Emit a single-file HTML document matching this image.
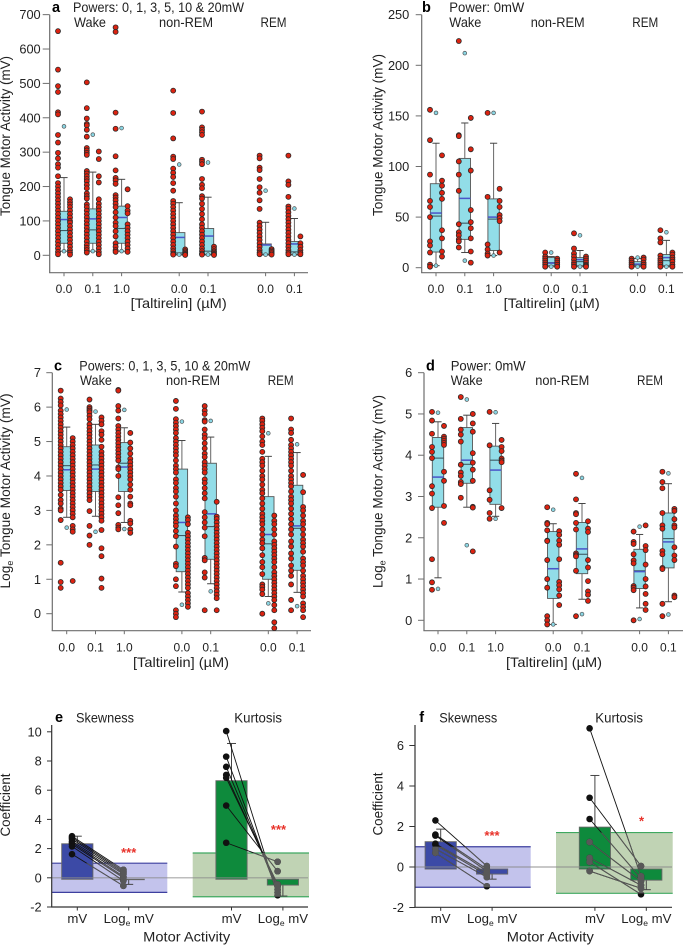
<!DOCTYPE html>
<html lang="en">
<head>
<meta charset="utf-8">
<title>Tongue motor activity</title>
<style>
html,body{margin:0;padding:0;background:#fff;width:683px;height:945px;overflow:hidden}
svg{display:block}
text{font-family:"Liberation Sans",sans-serif;fill:#222}
.tick{font-size:12.8px}
.xt{font-size:12px;text-anchor:middle}
.xb{font-size:13.2px;text-anchor:middle}
.title{font-size:13.6px}
.head{font-size:13.6px}
.letter{font-size:14.5px;font-weight:bold;fill:#000}
.star{font-size:13px;font-weight:bold;fill:#e8322a;text-anchor:middle}
</style>
</head>
<body>
<svg id="figure" width="683" height="945" viewBox="0 0 683 945" xmlns="http://www.w3.org/2000/svg">
<defs id="clips"></defs>

<g id="panel-a"></g>
<g id="panel-b"></g>
<g id="panel-c"></g>
<g id="panel-d"></g>
<g id="panel-e"></g>
<g id="panel-f"></g>

<g>
<text class="letter" x="52" y="12">a</text>
<text class="head" x="73" y="12" textLength="171" lengthAdjust="spacingAndGlyphs">Powers: 0, 1, 3, 5, 10 &amp; 20mW</text>
<text class="head" x="74" y="27" textLength="32" lengthAdjust="spacingAndGlyphs">Wake</text>
<text class="head" x="159" y="27" textLength="54" lengthAdjust="spacingAndGlyphs">non-REM</text>
<text class="head" x="260.5" y="27" textLength="26" lengthAdjust="spacingAndGlyphs">REM</text>
<text class="title" text-anchor="middle" transform="translate(10,136) rotate(-90)" textLength="160" lengthAdjust="spacingAndGlyphs">Tongue Motor Activity (mV)</text>
<text class="title" text-anchor="middle" x="178.7" y="308" textLength="96" lengthAdjust="spacingAndGlyphs">[Taltirelin] (µM)</text>
</g>

<g>
<text class="letter" x="422" y="12">b</text>
<text class="head" x="449.3" y="12" textLength="75" lengthAdjust="spacingAndGlyphs">Power: 0mW</text>
<text class="head" x="449.3" y="27" textLength="32" lengthAdjust="spacingAndGlyphs">Wake</text>
<text class="head" x="530.7" y="27" textLength="54" lengthAdjust="spacingAndGlyphs">non-REM</text>
<text class="head" x="632.3" y="27" textLength="26" lengthAdjust="spacingAndGlyphs">REM</text>
<text class="title" text-anchor="middle" transform="translate(382.7,135) rotate(-90)" textLength="162" lengthAdjust="spacingAndGlyphs">Tongue Motor Activity (mV)</text>
<text class="title" text-anchor="middle" x="551.7" y="308" textLength="96" lengthAdjust="spacingAndGlyphs">[Taltirelin] (µM)</text>
</g>

<g>
<text class="letter" x="54" y="370.7">c</text>
<text class="head" x="79.3" y="370.7" textLength="171" lengthAdjust="spacingAndGlyphs">Powers: 0, 1, 3, 5, 10 &amp; 20mW</text>
<text class="head" x="80" y="385" textLength="32" lengthAdjust="spacingAndGlyphs">Wake</text>
<text class="head" x="166" y="385" textLength="54" lengthAdjust="spacingAndGlyphs">non-REM</text>
<text class="head" x="267.7" y="385" textLength="26" lengthAdjust="spacingAndGlyphs">REM</text>
<text class="title" text-anchor="middle" transform="translate(10,491) rotate(-90)" textLength="195" lengthAdjust="spacingAndGlyphs">Log<tspan font-size="9" dy="3">e</tspan><tspan dy="-3"> Tongue Motor Activity (mV)</tspan></text>
<text class="title" text-anchor="middle" x="181" y="667" textLength="96" lengthAdjust="spacingAndGlyphs">[Taltirelin] (µM)</text>
</g>

<g>
<text class="letter" x="426" y="370.7">d</text>
<text class="head" x="450.7" y="370.7" textLength="75" lengthAdjust="spacingAndGlyphs">Power: 0mW</text>
<text class="head" x="450.7" y="385" textLength="32" lengthAdjust="spacingAndGlyphs">Wake</text>
<text class="head" x="535.3" y="385" textLength="54" lengthAdjust="spacingAndGlyphs">non-REM</text>
<text class="head" x="637" y="385" textLength="26" lengthAdjust="spacingAndGlyphs">REM</text>
<text class="title" text-anchor="middle" transform="translate(382.7,491.5) rotate(-90)" textLength="193" lengthAdjust="spacingAndGlyphs">Log<tspan font-size="9" dy="3">e</tspan><tspan dy="-3"> Tongue Motor Activity (mV)</tspan></text>
<text class="title" text-anchor="middle" x="554" y="667" textLength="96" lengthAdjust="spacingAndGlyphs">[Taltirelin] (µM)</text>
</g>

<g>
<text class="letter" x="55" y="722">e</text>
<text class="head" x="76" y="722.3" textLength="58" lengthAdjust="spacingAndGlyphs">Skewness</text>
<text class="head" x="234.3" y="722.3" textLength="47.7" lengthAdjust="spacingAndGlyphs">Kurtosis</text>
<text class="title" text-anchor="middle" transform="translate(10,805) rotate(-90)" textLength="63" lengthAdjust="spacingAndGlyphs">Coefficient</text>
<text class="title" text-anchor="middle" x="186.7" y="941.5" textLength="87" lengthAdjust="spacingAndGlyphs">Motor Activity</text>
<text class="star" x="128.7" y="857">***</text>
<text class="star" x="278.5" y="834">***</text>
</g>

<g>
<text class="letter" x="419.3" y="722">f</text>
<text class="head" x="439.3" y="722.3" textLength="58" lengthAdjust="spacingAndGlyphs">Skewness</text>
<text class="head" x="595.3" y="722.3" textLength="47.7" lengthAdjust="spacingAndGlyphs">Kurtosis</text>
<text class="title" text-anchor="middle" transform="translate(382.7,804) rotate(-90)" textLength="63" lengthAdjust="spacingAndGlyphs">Coefficient</text>
<text class="title" text-anchor="middle" x="550.3" y="941.5" textLength="87" lengthAdjust="spacingAndGlyphs">Motor Activity</text>
<text class="star" x="492" y="840">***</text>
<text class="star" x="641.5" y="825.5">*</text>
</g>
</svg>

<script>
// ---------- shared categories ----------
const categories = ['0.0','0.1','1.0','0.0','0.1','0.0','0.1'];
const stateGroups = [0,0,0,1,1,2,2];
const barCategories = ['mV','Log<tspan font-size="8.5" dy="3">e</tspan><tspan dy="-3"> mV</tspan>','mV','Log<tspan font-size="8.5" dy="3">e</tspan><tspan dy="-3"> mV</tspan>'];
const barGroups = [0,0,1,1];

// ---------- panel a ----------
const aTicks = [0,100,200,300,400,500,600,700];
const aLeft = [
 [652,540,492,475,416,410,350,328,298,282,265,255,230,210,200,190,180,170,160,150,140,130,120,110,100,90,80,70,60,50,40,30,20,10,3],
 [503,428,398,382,378,365,345,312,305,298,292,245,238,230,222,215,205,195,180,172,165,148,140,130,120,110,100,90,80,70,60,50,40,30,22,15,8],
 [663,650,415,368,288,247,225,218,208,175,168,160,150,140,125,110,95,85,70,55,35,25,15,10],
 [479,414,340,287,280,252,240,228,210,188,158,150,140,130,120,110,100,90,80,70,60,50,40,30,20,12,5,2],
 [418,372,365,358,350,278,272,265,222,205,195,172,165,150,135,120,105,90,80,70,60,50,40,30,20,12,5,2],
 [290,282,255,248,222,198,182,160,135,95,85,75,65,55,45,35,25,15,8,3],
 [290,215,205,170,142,135,125,115,105,95,85,75,65,55,45,35,25,15,8,3]
];
const aRight = [
 [163,155,148,140,130,120,110,100,95,85,75,65,55,45,35,25,15,8,2],
 [302,280,230,212,163,150,140,130,120,110,100,90,80,70,60,50,40,30,20,10,3],
 [192,143,130,122,90,80,70,60,50,40,30,20,10],
 [17,12,8,4,1],
 [25,18,12,8,4,1],
 [18,14,10,6,2],
 [55,35,25,15,8,3]
];
const aCyan = [[375,12],[351,12],[370,12],[264,2],[270,2],[188,2],[136,2]];
const aQ1 = [35,35,35,3,3,1,3];
const aQ3 = [128,135,143,66,78,33,40];
const aMedian = [72,74,78,7,12,3,10];
const aMean = [104,106,110,52,56,30,33];
const aWhiskerLow = [12,12,12,1,1,1,1];
const aWhiskerHigh = [226,242,221,153,169,96,107];

// ---------- panel b ----------
const bTicks = [0,50,100,150,200,250];
const bLeft = [
 [156,126,92,66,60,50,26,22,15,3,1],
 [224,131,130,105,92,76,43,35,32,28,26,20],
 [153,70,23,18,14,12],
 [15,11,9,7,5,3,1],
 [34,19,14,11,8,5,3,1],
 [9,7,5,3,1],
 [37,29,25,12,9,7,5,3,1]
];
const bRight = [
 [111,86,81,74,68,37,29,16,11],
 [148,117,96,57,45,39,29,16,5],
 [78,66,60,52,49,46,15],
 [9,7,5,3,1],
 [11,9,7,5,3,2,1],
 [10,8,5,3,1],
 [15,13,10,8,6,3,1]
];
const bCyan = [[153,2],[212,7],[153,12],[15,1],[32,1],[10,1],[35,1]];
const bQ1 = [15.5,28,17,2,2,2,2];
const bQ3 = [83,108,68,10,10,6,13];
const bMedian = [51,44,48,5,6,3,7];
const bMean = [54,68.5,50,4.5,8,3.5,10];
const bWhiskerLow = [2,15,12,1,1,1,1];
const bWhiskerHigh = [123,143,123,11,17,9,27];

// ---------- panel c ----------
const cTicks = [0,1,2,3,4,5,6,7];
const cLeft = [
 [6.48,6.25,6.15,6.05,5.9,5.8,5.7,5.6,5.5,5.4,5.3,5.2,5.1,5.0,4.9,4.8,4.7,4.6,4.5,4.4,4.3,4.2,4.1,4.0,3.9,3.8,3.7,3.6,3.45,3.3,3.2,3.05,3.0,2.72,1.48,0.92,0.75],
 [6.22,6.0,5.95,5.9,5.85,5.75,5.65,5.5,5.4,5.3,5.2,5.1,5.0,4.9,4.8,4.7,4.6,4.5,4.4,4.3,4.2,4.1,4.0,3.9,3.8,3.7,3.6,3.5,3.4,3.3,2.98,2.55,2.27,2.0],
 [6.5,6.48,6.03,5.9,5.67,5.45,5.35,5.25,5.15,5.05,4.95,4.85,4.75,4.65,4.55,4.45,4.25,4.2,4.0,3.38,3.15,2.92,2.58,2.5,2.45],
 [6.18,5.95,5.65,5.55,5.45,5.35,5.25,5.1,5.0,4.9,4.8,4.7,4.6,4.45,4.3,4.2,4.1,3.9,3.8,3.65,3.55,3.4,3.2,3.0,2.85,2.75,2.65,2.55,2.4,2.25,1.95,1.45,1.38,1.0,0.8,0.1,0.0,-0.1],
 [6.03,5.9,5.8,5.62,5.58,5.35,5.2,5.1,4.95,4.8,4.65,4.55,4.4,4.3,4.2,4.1,3.9,3.8,3.65,3.5,3.35,2.95,2.8,2.65,2.5,2.25,1.62,1.55,1.2,1.05,0.1],
 [5.67,5.6,5.5,5.4,5.3,5.15,5.0,4.9,4.7,4.5,4.4,4.3,4.15,4.0,3.9,3.75,3.6,3.5,3.35,3.2,3.05,2.9,2.8,2.7,2.6,2.45,2.3,2.15,2.05,1.9,1.7,1.5,1.35,1.15,0.85,0.78,0.7,0.57,0.0],
 [5.67,5.35,5.25,5.05,4.9,4.8,4.7,4.6,4.5,4.4,4.3,4.15,4.0,3.9,3.8,3.7,3.55,3.4,3.3,3.2,3.05,2.9,2.75,2.6,2.45,2.3,2.1,1.95,1.75,1.6,1.4,1.25,1.1,0.85,0.4,0.1]
];
const cRight = [
 [5.1,5.0,4.9,4.8,4.7,4.6,4.5,4.4,4.3,4.2,4.1,4.0,3.9,3.8,3.7,3.6,3.5,3.4,3.3,3.2,3.1,3.0,2.9,2.8,2.55,2.45,2.38,0.95],
 [5.7,5.6,5.5,5.3,5.2,5.05,4.85,4.7,4.6,4.5,4.4,4.3,4.2,4.1,4.0,3.9,3.8,3.7,3.6,3.5,3.4,3.3,3.2,3.1,3.0,2.9,2.8,2.7,2.43,1.9,1.67,1.02,0.75],
 [5.25,4.97,4.8,4.65,4.5,4.4,4.3,4.2,4.1,4.0,3.9,3.75,3.6,3.4,3.2,3.15,2.7,2.62,2.45,2.35],
 [2.8,2.72,2.6,2.35,2.25,2.15,2.05,1.95,1.85,1.75,1.65,1.55,1.45,1.35,1.25,1.15,1.05,0.95,0.85,0.75,0.6,0.5,0.4,0.3,0.2],
 [3.25,2.82,2.75,2.65,2.55,2.45,2.35,2.25,2.15,2.05,1.95,1.85,1.75,1.65,1.55,1.45,1.35,1.25,1.15,1.05,0.95,0.85,0.75,0.65,0.55,0.45,0.1],
 [2.85,2.7,2.6,2.45,2.3,2.1,2.0,1.9,1.8,1.7,1.6,1.5,1.35,1.2,1.1,1.0,0.9,0.8,0.7,0.6,0.5,0.4,0.25,0.1,-0.25,-0.42],
 [4.03,3.53,3.1,3.0,2.85,2.7,2.6,2.45,2.3,2.15,2.05,1.95,1.8,1.6,1.5,1.4,1.25,1.1,1.0,0.9,0.8,0.7,0.6,0.5,0.3,0.2,0.1,-0.1]
];
const cCyan = [[5.93,2.5],[5.87,2.38],[5.92,2.46],[5.58,0.26],[5.6,0.65],[5.24,0.3],[4.92,0.22]];
const cQ1 = [3.58,3.55,3.55,1.22,1.58,1.0,1.26];
const cQ3 = [4.85,4.9,4.97,4.2,4.37,3.4,3.73];
const cMedian = [4.3,4.32,4.37,2.27,2.53,2.03,2.48];
const cMean = [4.18,4.2,4.26,2.65,2.9,2.3,2.55];
const cWhiskerLow = [2.8,2.83,2.65,0.63,0.87,0.5,0.62];
const cWhiskerHigh = [5.42,5.5,5.4,5.03,5.13,4.57,4.68];

// ---------- panel d ----------
const dTicks = [0,1,2,3,4,5,6];
const dLeft = [
 [5.05,4.84,4.52,4.2,4.08,3.93,3.25,3.07,2.72,1.48,0.92,0.74],
 [5.41,4.88,4.62,4.5,4.33,3.77,3.58,3.5,3.35,3.3,2.97],
 [5.05,4.24,3.15,2.92,2.6,2.46],
 [2.74,2.36,2.33,2.18,1.93,1.92,1.46,1.0,0.79,0.1,0.0,-0.1],
 [3.55,2.93,2.6,2.57,2.36,2.2,1.62,1.58,1.55,1.2,0.1],
 [2.15,1.9,1.85,1.6,1.45,1.38,0.83,0.79,0.73,0.0],
 [3.6,3.35,3.2,2.6,2.3,2.22,1.68,1.6,1.27,1.24,0.4,0.1]
];
const dRight = [
 [4.71,4.45,4.4,4.35,4.3,4.25,3.6,3.38,2.77,2.36],
 [5.0,4.77,4.57,4.05,3.82,3.65,3.38,2.75,2.73,1.67],
 [4.37,4.2,4.1,3.92,3.87,3.83,2.72],
 [2.16,2.07,1.93,1.83,1.48,0.93,0.85,0.75,0.6,0.37],
 [2.4,2.22,2.14,1.46,1.28,0.95,0.7,0.62,0.47],
 [2.3,1.8,1.7,1.35,1.0,0.82,0.64,0.4,0.25],
 [2.7,2.65,2.45,2.3,2.25,1.77,1.57,1.46,0.6,0.56]
];
const dCyan = [[5.03,0.76],[5.35,1.82],[5.04,2.46],[2.68,-0.1],[3.45,0.15],[2.27,0.03],[3.56,0.14]];
const dQ1 = [2.74,3.32,2.81,0.53,1.13,0.77,1.27];
const dQ3 = [4.43,4.67,4.22,2.15,2.37,1.72,2.6];
const dMedian = [3.93,3.78,3.88,1.25,1.6,1.2,1.98];
const dMean = [3.47,3.88,3.64,1.25,1.73,1.18,1.9];
const dWhiskerLow = [1.03,2.74,2.52,-0.1,0.51,0.3,0.45];
const dWhiskerHigh = [4.81,4.97,4.77,2.34,2.83,2.08,3.31];

// ---------- panel e ----------
const eTicks = [-2,0,2,4,6,8,10];
const eSkewMv = [2.85,2.75,2.65,2.5,2.4,2.3,2.15,1.62];
const eSkewLog = [0.55,0.45,0.35,0.25,0.1,0,-0.2,-0.55];
const eKurtMv = [10.05,8.3,7.6,7.05,6.85,4.95,2.4];
const eKurtLog = [-1.2,-1.0,-0.8,-0.6,-0.45,0.45,1.1];
const eBarMeans = [2.33,-0.13,6.65,-0.5];
const eBarErrors = [2.85,-0.45,9.2,-1.25];
const eBarEnds = [-0.1,-0.1,-0.1,-0.1];

// ---------- panel f ----------
const fTicks = [-2,0,2,4,6];
const fSkewMv = [2.3,1.6,1.55,1.15,1.1,0.9,0.7];
const fSkewLog = [0.05,-0.1,-0.2,-0.3,-0.4,-0.5,-0.95];
const fKurtMv = [6.85,3.42,2.37,1.23,0.45,0.25,-0.2];
const fKurtLog = [-0.45,0.05,-0.55,-0.7,-0.9,-1.35,-1.05];
const fBarMeans = [1.25,-0.35,1.97,-0.65];
const fBarErrors = [1.87,-0.6,4.52,-1.12];
const fBarEnds = [-0.1,-0.1,-0.1,-0.1];

// ---------- bands ----------
const skewBand = [1,-1];
const kurtBand = [1.7,-1.3];

// ---------- drawing ----------
const NS = 'http://www.w3.org/2000/svg';
function node(parent, tag, attrs){
  const n = document.createElementNS(NS, tag);
  for (const k in attrs) n.setAttribute(k, attrs[k]);
  parent.appendChild(n);
  return n;
}

function drawAxes(g, o, xLabels, slots, labelClass){
  const axisColor = o.axis;
  const yAxis = node(g,'line',{x1:o.left,x2:o.left,y1:o.top,y2:o.bottom,stroke:axisColor,'stroke-width':1.2});
  
  
  const xAxis = node(g,'line',{x1:o.left-0.6,x2:o.right,y1:o.bottom,y2:o.bottom,stroke:axisColor,'stroke-width':1.2});
  
  
  o.ticks.forEach(function(t){
    const tk = node(g,'line',{x1:o.left-o.tickLen,x2:o.left,y1:o.y(t),y2:o.y(t),stroke:axisColor,'stroke-width':1});
    
    
    const lb = node(g,'text',{x:o.labelRight,y:o.y(t)+4.5,'text-anchor':'end','class':'tick'});
    
    
    lb.textContent = t;
  });
  xLabels.forEach(function(c,i){
    const x = o.x(i);
    const tk = node(g,'line',{x1:x,x2:x,y1:o.bottom,y2:o.bottom+3.5,stroke:axisColor,'stroke-width':1});
    
    
    const lb = node(g,'text',{x:x,y:o.xLabelY,'class':labelClass});
    
    
    lb.innerHTML = c;
  });
}

function drawBoxPanel(id, o, d){
  const g = document.getElementById(id);
  o.x = function(i){ return o.x0 + o.dx*(i + stateGroups[i]); };
  o.y = function(v){ return o.zero - (v - 0)*o.perUnit; };
  drawAxes(g, o, categories, stateGroups, 'xt');
  categories.forEach(function(c,i){
    const x = o.x(i), hw = 5.7, cap = 3.6;
    const col = node(g,'g',{});
    
    
    const stem = node(col,'line',{x1:x,x2:x,y1:o.y(d.hi[i]),y2:o.y(d.lo[i]),stroke:'#666','stroke-width':1});
    
    
    [d.hi[i], d.lo[i]].forEach(function(v){
      const cp = node(col,'line',{x1:x-cap,x2:x+cap,y1:o.y(v),y2:o.y(v),stroke:'#444','stroke-width':1});
      
      
    });
    const box = node(col,'rect',{x:x-hw,width:hw*2,y:o.y(d.q3[i]),height:Math.max(0.5,o.y(d.q1[i])-o.y(d.q3[i])),fill:'#92dde8',stroke:'#555','stroke-width':0.9});
    
    
    const med = node(col,'line',{x1:x-hw,x2:x+hw,y1:o.y(d.med[i]),y2:o.y(d.med[i]),stroke:'#3f5a62','stroke-width':1.1});
    
    
    const mean = node(col,'line',{x1:x-hw,x2:x+hw,y1:o.y(d.mean[i]),y2:o.y(d.mean[i]),stroke:'#4a55c8','stroke-width':1.5});
    
    
    d.cyan[i].forEach(function(v){
      const p = node(col,'circle',{cx:x,cy:o.y(v),r:1.9,fill:'#8ad6e4',stroke:'#555','stroke-width':0.7});
      
      
    });
    d.left[i].forEach(function(v){
      const p = node(col,'circle',{cx:x-6,cy:o.y(v),r:2.5,fill:'#dc2210',stroke:'#2a2a2a','stroke-width':0.8});
      
      
    });
    d.right[i].forEach(function(v){
      const p = node(col,'circle',{cx:x+6,cy:o.y(v),r:2.5,fill:'#dc2210',stroke:'#2a2a2a','stroke-width':0.8});
      
      
    });
  });
}

let clipCount = 0;
function drawPairs(g, o, mv, log, i0, color, clipId){
  const holder = node(g,'g', clipId ? {'clip-path':'url(#'+clipId+')'} : {});
  
  
  const xa = o.x(i0)-5.3, xb = o.x(i0+1)-5.3;
  mv.forEach(function(v,k){
    const ln = node(holder,'line',{x1:xa,y1:o.y(v),x2:xb,y2:o.y(log[k]),stroke:color,'stroke-width':0.9});
    
    
  });
  mv.forEach(function(v){
    const p = node(holder,'circle',{cx:xa,cy:o.y(v),r:3.3,fill:color});
    
    
  });
  log.forEach(function(v){
    const p = node(holder,'circle',{cx:xb,cy:o.y(v),r:3.3,fill:color});
    
    
  });
}

function drawBarPanel(id, o, d){
  const g = document.getElementById(id);
  o.x = function(i){ return o.x0 + o.dx*(i + barGroups[i]); };
  o.y = function(v){ return o.zero - v*o.perUnit; };
  const defs = document.getElementById('clips');
  const bands = [
    {lim:skewBand, x1:o.band1[0], x2:o.band1[1], fill:'#c3c3ec', edge:'#3d3f9f', bar:'#3c4aa6', mv:d.skewMv, log:d.skewLog, i0:0},
    {lim:kurtBand, x1:o.band2[0], x2:o.band2[1], fill:'#c0d3b4', edge:'#3fa860', bar:'#0e8a3c', mv:d.kurtMv, log:d.kurtLog, i0:2}
  ];
  bands.forEach(function(b){
    const r = node(g,'rect',{x:b.x1,width:b.x2-b.x1,y:o.y(b.lim[0]),height:o.y(b.lim[1])-o.y(b.lim[0]),fill:b.fill});
    
    
    b.lim.forEach(function(v){
      const e = node(g,'line',{x1:b.x1,x2:b.x2,y1:o.y(v),y2:o.y(v),stroke:b.edge,'stroke-width':1.2});
      
      
    });
  });
  bands.forEach(function(b){
    [b.i0,b.i0+1].forEach(function(i){
      const x = o.x(i), hw = 15.6, top = Math.max(d.means[i], d.ends[i]), bot = Math.min(d.means[i], d.ends[i]);
      const stem = node(g,'line',{x1:x,x2:x,y1:o.y(d.means[i]),y2:o.y(d.errors[i]),stroke:'#444','stroke-width':1});
      
      
      const cap = node(g,'line',{x1:x-4.5,x2:x+4.5,y1:o.y(d.errors[i]),y2:o.y(d.errors[i]),stroke:'#444','stroke-width':1});
      
      
      const bar = node(g,'rect',{x:x-hw,width:hw*2,y:o.y(top),height:o.y(bot)-o.y(top),fill:b.bar,stroke:'#666','stroke-width':0.9});
      
      
    });
  });
  const zero = node(g,'line',{x1:o.left,x2:o.right,y1:o.y(0),y2:o.y(0),stroke:'#8a8a8a','stroke-width':1.2,opacity:0.75});
  
  
  bands.forEach(function(b){
    drawPairs(g, o, b.mv, b.log, b.i0, '#111', null);
    const cid = 'clip' + (clipCount++);
    const cp = node(defs,'clipPath',{id:cid});
    node(cp,'rect',{x:b.x1,width:b.x2-b.x1,y:o.y(b.lim[0]),height:o.y(b.lim[1])-o.y(b.lim[0])});
    drawPairs(g, o, b.mv, b.log, b.i0, '#585858', cid);
  });
  drawAxes(g, o, barCategories, barGroups, 'xb');
}

drawBoxPanel('panel-a',
  {left:49.7,right:308,top:14.7,bottom:272.7,x0:64,dx:28.8,zero:255.3,perUnit:0.3438,ticks:aTicks,tickLen:7,labelRight:40.7,xLabelY:293,axis:'#6e6e6e'},
  {left:aLeft,right:aRight,cyan:aCyan,q1:aQ1,q3:aQ3,med:aMedian,mean:aMean,lo:aWhiskerLow,hi:aWhiskerHigh});
drawBoxPanel('panel-b',
  {left:421.7,right:683,top:14.7,bottom:272.7,x0:436,dx:28.8,zero:267.7,perUnit:1.012,ticks:bTicks,tickLen:6,labelRight:409.3,xLabelY:293,axis:'#6e6e6e'},
  {left:bLeft,right:bRight,cyan:bCyan,q1:bQ1,q3:bQ3,med:bMedian,mean:bMean,lo:bWhiskerLow,hi:bWhiskerHigh});
drawBoxPanel('panel-c',
  {left:52.3,right:311,top:372.7,bottom:630.7,x0:66.7,dx:28.8,zero:613.7,perUnit:34.43,ticks:cTicks,tickLen:6,labelRight:41,xLabelY:651.5,axis:'#6e6e6e'},
  {left:cLeft,right:cRight,cyan:cCyan,q1:cQ1,q3:cQ3,med:cMedian,mean:cMean,lo:cWhiskerLow,hi:cWhiskerHigh});
drawBoxPanel('panel-d',
  {left:424,right:683,top:372.7,bottom:630.7,x0:438,dx:28.8,zero:620.3,perUnit:41.27,ticks:dTicks,tickLen:6,labelRight:412.3,xLabelY:651.5,axis:'#6e6e6e'},
  {left:dLeft,right:dRight,cyan:dCyan,q1:dQ1,q3:dQ3,med:dMedian,mean:dMean,lo:dWhiskerLow,hi:dWhiskerHigh});
drawBarPanel('panel-e',
  {left:51.7,right:308,top:725,bottom:907,x0:77.3,dx:51.4,zero:877.8,perUnit:14.6,ticks:eTicks,tickLen:4.7,labelRight:41.7,xLabelY:923,axis:'#333',band1:[51.7,167.3],band2:[192.7,309]},
  {skewMv:eSkewMv,skewLog:eSkewLog,kurtMv:eKurtMv,kurtLog:eKurtLog,means:eBarMeans,errors:eBarErrors,ends:eBarEnds});
drawBarPanel('panel-f',
  {left:415,right:672,top:725,bottom:907.3,x0:440.7,dx:51.4,zero:867,perUnit:20.25,ticks:fTicks,tickLen:5.7,labelRight:404,xLabelY:923,axis:'#333',band1:[415,530.7],band2:[556,672.7]},
  {skewMv:fSkewMv,skewLog:fSkewLog,kurtMv:fKurtMv,kurtLog:fKurtLog,means:fBarMeans,errors:fBarErrors,ends:fBarEnds});
</script>
</body>
</html>
